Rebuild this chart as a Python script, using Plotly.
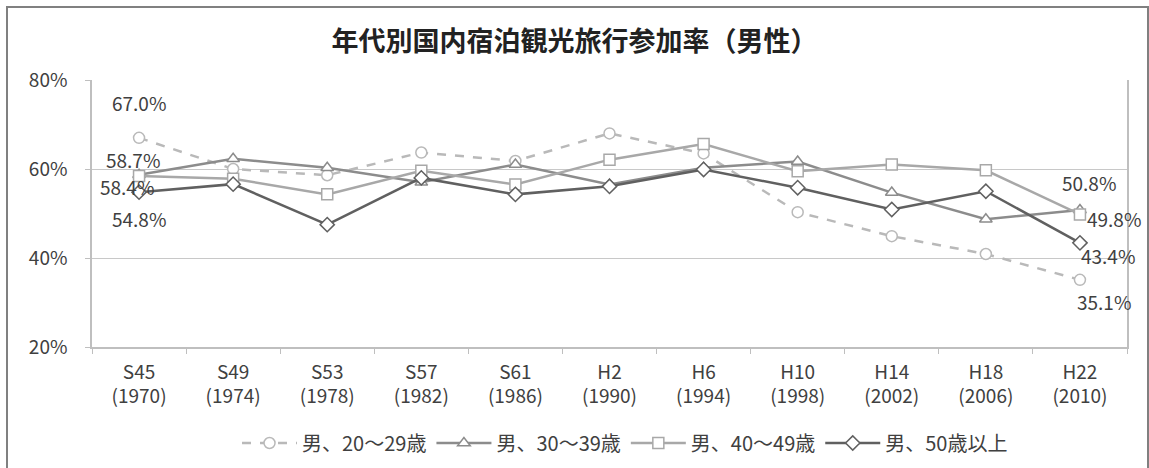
import plotly.graph_objects as go

# 調査年（和暦・西暦）
periods = ["S45<br>(1970)", "S49<br>(1974)", "S53<br>(1978)", "S57<br>(1982)", "S61<br>(1986)",
           "H2<br>(1990)", "H6<br>(1994)", "H10<br>(1998)", "H14<br>(2002)", "H18<br>(2006)",
           "H22<br>(2010)"]

# 年代別参加率（%）
male_20s = [67.0, 60.0, 58.6, 63.7, 61.8, 68.0, 63.5, 50.3, 44.9, 40.9, 35.1]
male_30s = [58.7, 62.3, 60.3, 57.0, 61.0, 56.5, 60.3, 61.7, 54.7, 48.7, 50.8]
male_40s = [58.4, 57.8, 54.3, 59.6, 56.5, 62.1, 65.6, 59.5, 61.0, 59.7, 49.8]
male_50s = [54.8, 56.6, 47.5, 58.0, 54.3, 56.1, 59.9, 55.8, 50.9, 55.0, 43.4]

series_names = ["男、20～29歳", "男、30～39歳", "男、40～49歳", "男、50歳以上"]

FONT = "Noto Sans CJK JP"
TEXT = "#404040"

series = [
    (series_names[0], male_20s, "#b9b9b9", "circle", "dash"),
    (series_names[1], male_30s, "#8c8c8c", "triangle-up", "solid"),
    (series_names[2], male_40s, "#a8a8a8", "square", "solid"),
    (series_names[3], male_50s, "#606060", "diamond", "solid"),
]

fig = go.Figure()
for name, vals, color, symbol, dash in series:
    fig.add_trace(go.Scatter(
        x=periods, y=vals, name=name, mode="lines+markers",
        line=dict(color=color, width=2.5, dash=dash),
        marker=dict(symbol=symbol, size=11, color="white",
                    line=dict(color=color, width=1.5)),
    ))

# 始点・終点のラベル（x, y のずれはピクセル）
first_offsets = [(0, 35), (-6, 15), (-12, -10), (0, -26)]
last_offsets = [(24, -22), (9, 27), (34, -4), (28, -13)]
annotations = []
for (name, vals, *_), (fx, fy), (lx, ly) in zip(series, first_offsets, last_offsets):
    for idx, (dx, dy) in ((0, (fx, fy)), (len(vals) - 1, (lx, ly))):
        annotations.append(dict(
            x=periods[idx], y=vals[idx], xref="x", yref="y",
            text=f"{vals[idx]:.1f}%", showarrow=False,
            xshift=dx, yshift=dy,
            font=dict(family=FONT, size=19, color=TEXT),
        ))

fig.update_layout(
    width=1149, height=468,
    margin=dict(l=92, r=22, t=80, b=121, autoexpand=False),
    paper_bgcolor="white", plot_bgcolor="white",
    font=dict(family=FONT, size=19, color=TEXT),
    title=dict(text="<b>年代別国内宿泊観光旅行参加率（男性）</b>",
               x=0.5, xref="container", xanchor="center",
               y=1 - 42 / 468, yref="container", yanchor="middle",
               font=dict(family=FONT, size=27, color="#222222")),
    showlegend=True,
    legend=dict(orientation="h", x=0.515, xanchor="center",
                y=1 - 443 / 468, yref="container", yanchor="middle",
                font=dict(family=FONT, size=20, color=TEXT),
                itemwidth=55, tracegroupgap=0, bgcolor="rgba(0,0,0,0)"),
    annotations=annotations,
    shapes=[dict(type="rect", xref="paper", yref="paper",
                 x0=(7 - 92) / 1035, x1=(1148 - 92) / 1035,
                 y0=(347 - 480) / 267, y1=(347 - 7) / 267,
                 line=dict(color="#808080", width=2), layer="below")],
)

fig.update_xaxes(
    type="category", showline=True, linecolor="#bfbfbf", linewidth=1.5,
    ticks="outside", tickson="boundaries", ticklen=5, tickcolor="#bfbfbf",
    ticklabelstandoff=7, automargin=False,
    showgrid=False, tickfont=dict(family=FONT, size=19, color=TEXT),
    range=[-0.5, len(periods) - 0.5],
)
fig.update_yaxes(
    range=[20, 80], dtick=20, ticksuffix="%",
    showline=True, linecolor="#bfbfbf", linewidth=1.5, mirror=True,
    ticks="outside", ticklen=5, tickcolor="#bfbfbf", ticklabelstandoff=14,
    automargin=False,
    showgrid=True, gridcolor="#c8c8c8", gridwidth=1.2, zeroline=False,
    tickfont=dict(family=FONT, size=19, color=TEXT),
)

fig.write_html("out.html")
